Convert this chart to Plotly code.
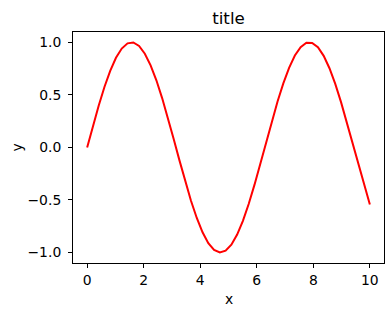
import plotly.graph_objects as go

x_values = [0.0, 0.204, 0.408, 0.612, 0.816, 1.020, 1.224, 1.429, 1.633, 1.837,
            2.041, 2.245, 2.449, 2.653, 2.857, 3.061, 3.265, 3.469, 3.673, 3.878,
            4.082, 4.286, 4.490, 4.694, 4.898, 5.102, 5.306, 5.510, 5.714, 5.918,
            6.122, 6.327, 6.531, 6.735, 6.939, 7.143, 7.347, 7.551, 7.755, 7.959,
            8.163, 8.367, 8.571, 8.776, 8.980, 9.184, 9.388, 9.592, 9.796, 10.0]
y_values = [0.0, 0.2027, 0.3969, 0.5747, 0.7286, 0.8523, 0.9406, 0.9899, 0.9981, 0.9648,
            0.8916, 0.7813, 0.6386, 0.4693, 0.2806, 0.0803, -0.1234, -0.3220, -0.5072, -0.6713,
            -0.8076, -0.9104, -0.9753, -0.9998, -0.9828, -0.9250, -0.8289, -0.6983, -0.5387, -0.3568,
            -0.1600, 0.0433, 0.2449, 0.4363, 0.6096, 0.7576, 0.8742, 0.9544, 0.9951, 0.9945,
            0.9526, 0.8711, 0.7535, 0.6046, 0.4306, 0.2388, 0.0370, -0.1663, -0.3627, -0.5440]
x_ticks = [0, 2, 4, 6, 8, 10]
y_ticks = [-1.0, -0.5, 0.0, 0.5, 1.0]
y_tick_labels = ["−1.0", "−0.5", "0.0", "0.5", "1.0"]

FONT = "DejaVu Sans"
TICK_SIZE = 13.9

fig = go.Figure()
fig.add_trace(go.Scatter(x=x_values, y=y_values, mode="lines",
                         line=dict(color="red", width=2), showlegend=False))

axis_common = dict(showgrid=False, zeroline=False, showline=True, linecolor="black",
                   linewidth=1, mirror=True, ticks="outside", ticklen=4, tickwidth=1,
                   tickcolor="black", tickfont=dict(family=FONT, size=TICK_SIZE, color="black"))

plot_w = 392 - 73 - 8
plot_h = 316 - 32 - 53

fig.update_layout(
    width=392, height=316,
    margin=dict(l=73, r=8, t=32, b=53),
    paper_bgcolor="white", plot_bgcolor="white",
    font=dict(family=FONT, color="black"),
    title=dict(text="title", x=0.5, xref="paper", y=1 - 18 / 316, yref="container",
               xanchor="center", yanchor="middle", font=dict(family=FONT, size=16.7, color="black")),
    xaxis=dict(range=[-0.5, 10.5], tickvals=x_ticks, ticktext=[str(t) for t in x_ticks],
               ticklabelstandoff=0, **axis_common),
    yaxis=dict(range=[-1.0997, 1.098], tickvals=y_ticks, ticktext=y_tick_labels,
               ticklabelstandoff=4, **axis_common),
    annotations=[
        dict(text="x", x=0.5, xref="paper", y=(316 - 53 - 299) / plot_h, yref="paper",
             showarrow=False, font=dict(family=FONT, size=TICK_SIZE, color="black"),
             xanchor="center", yanchor="middle"),
        dict(text="y", x=(16 - 73) / plot_w, xref="paper", y=0.5, yref="paper",
             showarrow=False, textangle=-90,
             font=dict(family=FONT, size=TICK_SIZE, color="black"),
             xanchor="center", yanchor="middle"),
    ],
)

fig.write_html("out.html")
